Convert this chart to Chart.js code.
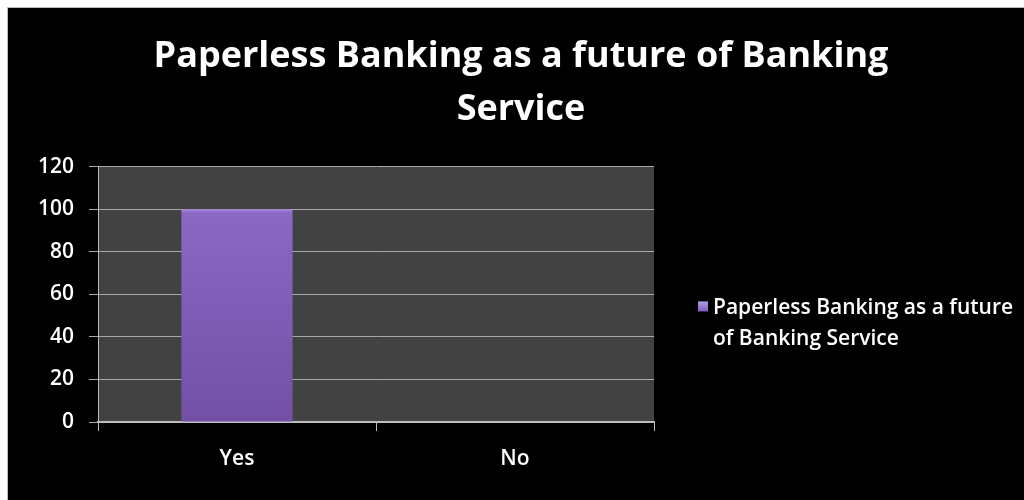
<!DOCTYPE html>
<html><head><meta charset="utf-8">
<script src="https://cdn.jsdelivr.net/npm/chart.js@4/dist/chart.umd.min.js"></script>
<style>
html,body{margin:0;padding:0;background:#fff;width:1024px;height:500px;overflow:hidden}
#wrap{position:absolute;left:7px;top:7px;width:1017px;height:493px;background:#000;border-left:1px solid #bbb;border-top:1px solid #bbb;box-sizing:border-box}
canvas{display:block}
</style></head><body>
<div id="wrap"><canvas id="c" width="1016" height="492"></canvas></div>
<script>
const titleLines = ['Paperless Banking as a future of Banking', 'Service'];
const categories = ['Yes', 'No'];
const seriesName = 'Paperless Banking as a future of Banking Service';
const legendLines = ['Paperless Banking as a future', 'of Banking Service'];
const seriesValues = [100, 0];
const yTicks = [0, 20, 40, 60, 80, 100, 120];
const FONT = '"Open Sans", Lato, sans-serif';

const plotBg = {
  id: 'plotBg',
  beforeDraw(chart) {
    const {ctx, chartArea: a} = chart;
    ctx.save();
    ctx.fillStyle = '#424242';
    ctx.fillRect(a.left, a.top, a.right - a.left, a.bottom - a.top);
    ctx.restore();
  }
};

const sideLegend = {
  id: 'sideLegend',
  afterDraw(chart) {
    const {ctx, chartArea: a} = chart;
    const x = a.right + 44, lh = 31;
    const y0 = (a.top + a.bottom) / 2 + 14;
    ctx.save();
    const g = ctx.createLinearGradient(0, y0 - 7, 0, y0 + 4);
    g.addColorStop(0, '#b49ae8'); g.addColorStop(1, '#7a58b8');
    ctx.fillStyle = g;
    ctx.fillRect(x, y0 - 7, 10, 10);
    ctx.fillStyle = '#ffffff';
    ctx.font = '600 21px ' + FONT;
    ctx.textBaseline = 'middle';
    ctx.textAlign = 'left';
    legendLines.forEach((t, i) => ctx.fillText(t, x + 15, y0 + i * lh));
    ctx.restore();
  }
};

new Chart(document.getElementById('c'), {
  type: 'bar',
  data: {
    labels: categories,
    datasets: [{
      label: seriesName,
      data: seriesValues,
      backgroundColor: (c) => {
        const a = c.chart.chartArea;
        if (!a) return '#8060b8';
        const g = c.chart.ctx.createLinearGradient(0, a.top + 40, 0, a.bottom);
        g.addColorStop(0, '#b59aec');
        g.addColorStop(0.03, '#8a68c4');
        g.addColorStop(1, '#7350a6');
        return g;
      },
      borderWidth: 0,
      barPercentage: 0.4,
      categoryPercentage: 1.0
    }]
  },
  options: {
    responsive: false,
    animation: false,
    layout: {padding: {left: 10, right: 0, top: 22, bottom: 0}},
    plugins: {
      legend: {display: false},
      tooltip: {enabled: false},
      title: {
        display: true,
        text: titleLines,
        color: '#ffffff',
        font: {family: FONT, size: 36, weight: 'bold', lineHeight: 1.47},
        padding: {top: 0, bottom: 31}
      }
    },
    scales: {
      x: {
        offset: true,
        grid: {display: true, drawOnChartArea: false, drawTicks: true, tickLength: 9, color: '#bdbdbd', offset: true},
        border: {display: true, color: '#bdbdbd', width: 2},
        ticks: {color: '#ffffff', font: {family: FONT, size: 21, weight: '600'}, padding: 15},
        afterFit: (s) => { s.height = 78; }
      },
      y: {
        min: 0, max: 120,
        afterBuildTicks: (s) => { s.ticks = yTicks.map(v => ({value: v})); },
        grid: {color: '#a8a8a8', lineWidth: 1, tickLength: 9, drawTicks: true},
        border: {display: true, color: '#bdbdbd', width: 1},
        ticks: {color: '#ffffff', font: {family: FONT, size: 21, weight: '600'}, padding: 15},
        afterFit: (s) => { s.width = 80; }
      },
      legendSpace: {
        position: 'right',
        display: true,
        grid: {display: false},
        border: {display: false},
        ticks: {display: false},
        afterFit: (s) => { s.width = 370; }
      }
    }
  },
  plugins: [plotBg, sideLegend]
});
</script>
</body></html>
